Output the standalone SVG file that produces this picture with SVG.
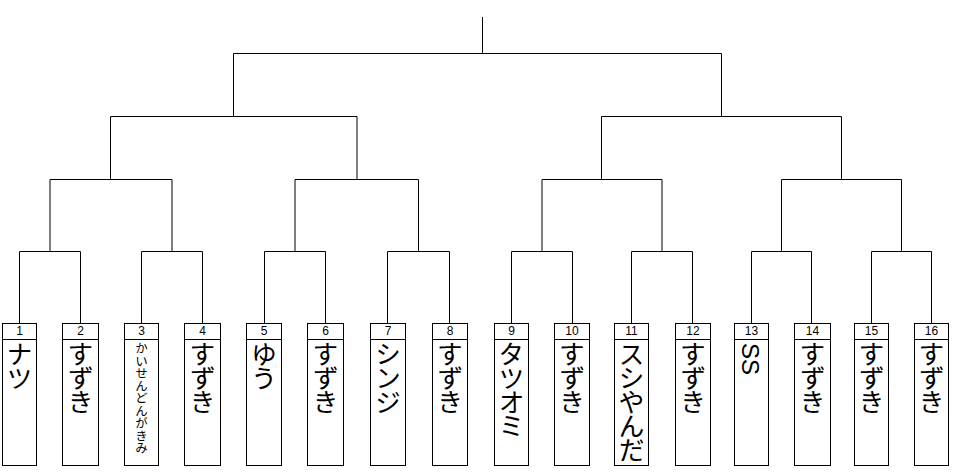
<svg xmlns="http://www.w3.org/2000/svg" width="953" height="473" viewBox="0 0 953 473">
<style>
.b{fill:#fff;stroke:#000;stroke-width:1}
.c{fill:none;stroke:#000;stroke-width:1}
.n{font-family:"Liberation Sans","Noto Sans CJK JP",sans-serif;font-size:12px;text-anchor:middle}
.t{font-family:"Noto Sans CJK JP",sans-serif;font-size:26px;letter-spacing:-2px;writing-mode:vertical-rl}
.s{font-size:12.5px;letter-spacing:0}
</style>
<rect width="953" height="473" fill="#fff"/>
<g id="connectors" class="c">
<path d="M19.5,323V251.5H80.5V323M50,251.5V179.5"/>
<path d="M141.5,323V251.5H202.5V323M172,251.5V179.5"/>
<path d="M264.5,323V251.5H325.5V323M295,251.5V179.5"/>
<path d="M387.5,323V251.5H449.5V323M418.5,251.5V179.5"/>
<path d="M511.5,323V251.5H572.5V323M542,251.5V179.5"/>
<path d="M631.5,323V251.5H692.5V323M662,251.5V179.5"/>
<path d="M751.5,323V251.5H811.5V323M781.5,251.5V179.5"/>
<path d="M871.5,323V251.5H931.5V323M901.5,251.5V179.5"/>
<path d="M50,179.5H172M110.5,179.5V116.5"/>
<path d="M295,179.5H418.5M357,179.5V116.5"/>
<path d="M542,179.5H662M601.5,179.5V116.5"/>
<path d="M781.5,179.5H901.5M841.5,179.5V116.5"/>
<path d="M110.5,116.5H357M233.5,116.5V53.5"/>
<path d="M601.5,116.5H841.5M721.5,116.5V53.5"/>
<path d="M233.5,53.5H721.5M482.5,53.5V17"/>
</g>
<g id="p1"><rect class="b" x="2.5" y="323.5" width="34" height="142"/><path class="c" d="M2.5,339.5H36.5"/><text class="n" x="19.5" y="335">1</text><text class="t" x="19.5" y="341">ナツ</text></g>
<g id="p2"><rect class="b" x="62.5" y="323.5" width="36" height="142"/><path class="c" d="M62.5,339.5H98.5"/><text class="n" x="80.5" y="335">2</text><text class="t" x="80.5" y="341">すずき</text></g>
<g id="p3"><rect class="b" x="124.5" y="323.5" width="34" height="142"/><path class="c" d="M124.5,339.5H158.5"/><text class="n" x="141.5" y="335">3</text><text class="t s" x="141.5" y="342">かいせんどんがきみ</text></g>
<g id="p4"><rect class="b" x="184.5" y="323.5" width="36" height="142"/><path class="c" d="M184.5,339.5H220.5"/><text class="n" x="202.5" y="335">4</text><text class="t" x="202.5" y="341">すずき</text></g>
<g id="p5"><rect class="b" x="246.5" y="323.5" width="35" height="142"/><path class="c" d="M246.5,339.5H281.5"/><text class="n" x="264" y="335">5</text><text class="t" x="264" y="341">ゆう</text></g>
<g id="p6"><rect class="b" x="307.5" y="323.5" width="36" height="142"/><path class="c" d="M307.5,339.5H343.5"/><text class="n" x="325.5" y="335">6</text><text class="t" x="325.5" y="341">すずき</text></g>
<g id="p7"><rect class="b" x="370.5" y="323.5" width="35" height="142"/><path class="c" d="M370.5,339.5H405.5"/><text class="n" x="388" y="335">7</text><text class="t" x="388" y="341">シンジ</text></g>
<g id="p8"><rect class="b" x="432.5" y="323.5" width="35" height="142"/><path class="c" d="M432.5,339.5H467.5"/><text class="n" x="450" y="335">8</text><text class="t" x="450" y="341">すずき</text></g>
<g id="p9"><rect class="b" x="494.5" y="323.5" width="34" height="142"/><path class="c" d="M494.5,339.5H528.5"/><text class="n" x="511.5" y="335">9</text><text class="t" x="511.5" y="341">タツオミ</text></g>
<g id="p10"><rect class="b" x="554.5" y="323.5" width="35" height="142"/><path class="c" d="M554.5,339.5H589.5"/><text class="n" x="572" y="335">10</text><text class="t" x="572" y="341">すずき</text></g>
<g id="p11"><rect class="b" x="614.5" y="323.5" width="34" height="142"/><path class="c" d="M614.5,339.5H648.5"/><text class="n" x="631.5" y="335">11</text><text class="t" x="631.5" y="341">スシやんだ</text></g>
<g id="p12"><rect class="b" x="675.5" y="323.5" width="35" height="142"/><path class="c" d="M675.5,339.5H710.5"/><text class="n" x="693" y="335">12</text><text class="t" x="693" y="341">すずき</text></g>
<g id="p13"><rect class="b" x="734.5" y="323.5" width="34" height="142"/><path class="c" d="M734.5,339.5H768.5"/><text class="n" x="751.5" y="335">13</text><text font-family="Liberation Sans,sans-serif" font-size="24" transform="translate(742,343) rotate(90)">SS</text></g>
<g id="p14"><rect class="b" x="794.5" y="323.5" width="36" height="142"/><path class="c" d="M794.5,339.5H830.5"/><text class="n" x="812.5" y="335">14</text><text class="t" x="812.5" y="341">すずき</text></g>
<g id="p15"><rect class="b" x="854.5" y="323.5" width="34" height="142"/><path class="c" d="M854.5,339.5H888.5"/><text class="n" x="871.5" y="335">15</text><text class="t" x="871.5" y="341">すずき</text></g>
<g id="p16"><rect class="b" x="914.5" y="323.5" width="34" height="142"/><path class="c" d="M914.5,339.5H948.5"/><text class="n" x="931.5" y="335">16</text><text class="t" x="931.5" y="341">すずき</text></g>
</svg>
